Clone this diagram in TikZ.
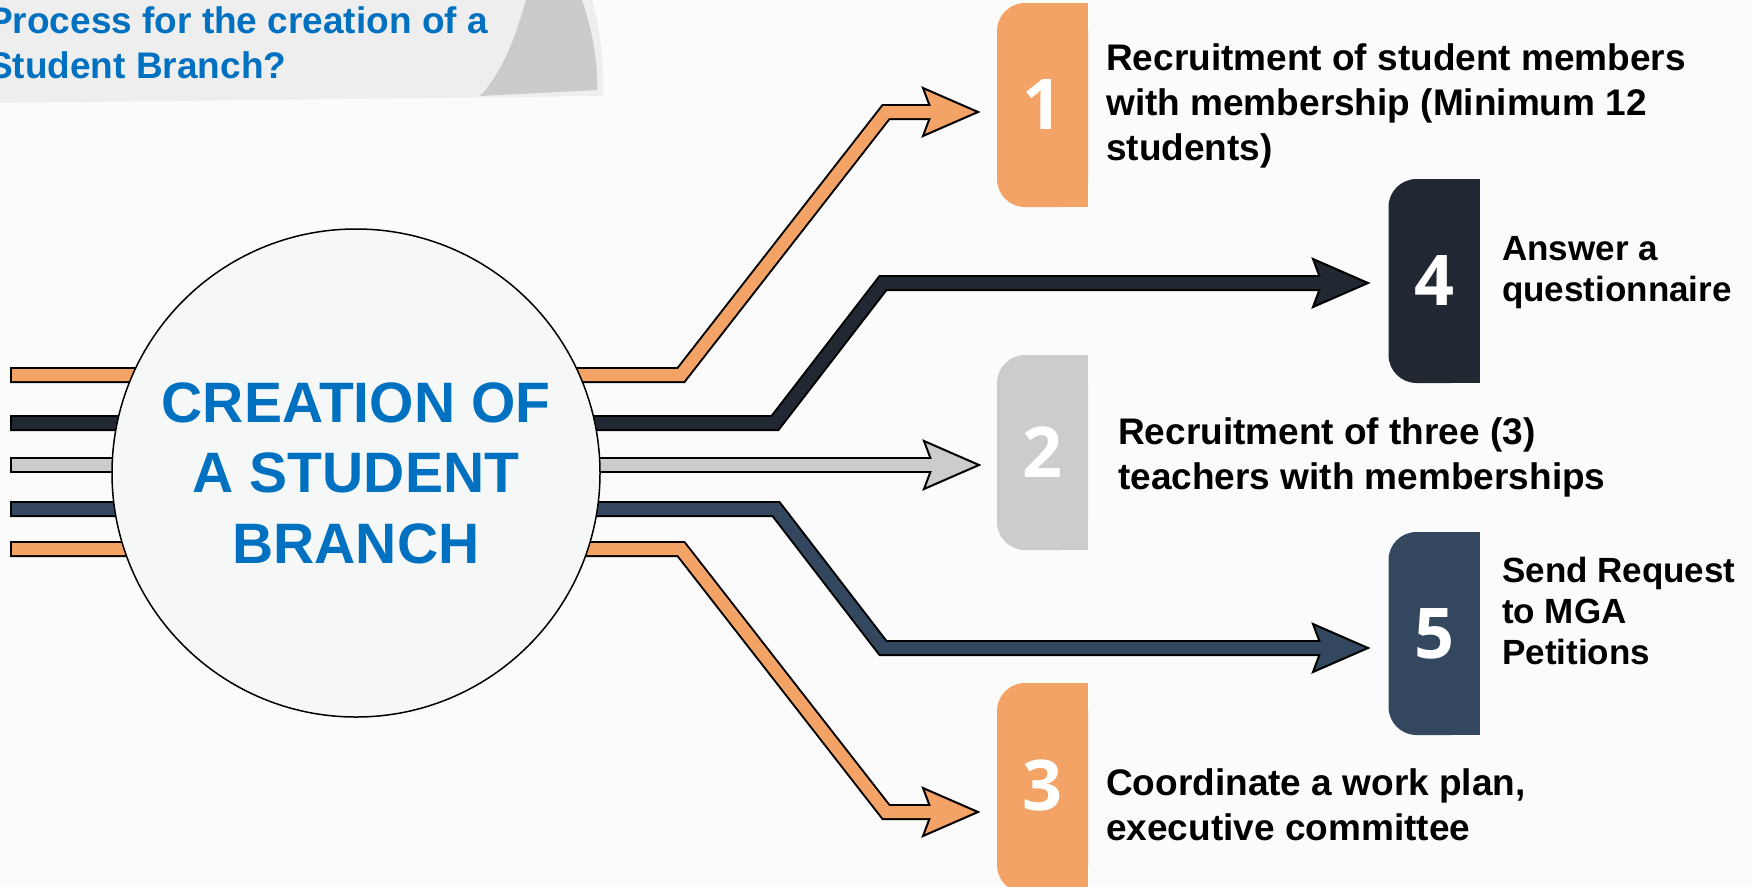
\documentclass[tikz,border=0pt]{standalone}
\usepackage{fontspec}
\setmainfont{Liberation Sans}
\newfontfamily\digitfont{Open Sans}
\usetikzlibrary{shapes.geometric}
\definecolor{borange}{HTML}{F2A365}
\definecolor{bdark}{HTML}{212832}
\definecolor{bgray}{HTML}{CCCCCC}
\definecolor{bnavy}{HTML}{33475E}
\definecolor{bblue}{HTML}{0070C0}
\definecolor{bannerbg}{HTML}{EEEEEE}
\definecolor{curlgray}{HTML}{CBCBCB}
\definecolor{circfill}{HTML}{F6F8F8}
\definecolor{pagebg}{HTML}{FBFBFB}
\newcommand\arrowhead[3]{%
  \filldraw[fill=#1,draw=black,line width=2pt,line join=miter]
    (#2,#3) -- ({#2-55},{#3-24}) -- ({#2-46},#3) -- ({#2-55},{#3+24}) -- cycle;}
\tikzset{
  shaftout/.style={draw=black,line width=16pt,line join=miter,line cap=butt},
  shaftin/.style={draw=#1,line width=12pt,line join=miter,line cap=butt},
  numbox/.style={rectangle,fill=#1,minimum width=91pt,rounded corners=28pt,
    inner sep=0pt},
  digit/.style={text=white,inner sep=0pt,font=\digitfont\bfseries\fontsize{70}{70}\selectfont},
  steptext/.style={anchor=west,align=left,inner sep=0pt,text=black,
    font=\bfseries\fontsize{37}{45}\selectfont},
  steptextsmall/.style={anchor=west,align=left,inner sep=0pt,text=black,
    font=\bfseries\fontsize{35}{41}\selectfont}
}
\begin{document}
\begin{tikzpicture}[x=1pt,y=-1pt]
\useasboundingbox (0,0) rectangle (1752,886);
\clip (0,0) rectangle (1752,886);
\fill[pagebg] (0,0) rectangle (1752,886);
% banner
\fill[bannerbg] (0,0) -- (592,0) .. controls (600,30) and (604,60) .. (603,96) -- (0,103) -- cycle;
\fill[curlgray] (480,96) .. controls (503,72) and (516,35) .. (526,0) -- (582,0)
   .. controls (592,30) and (598,60) .. (597,90) -- cycle;
\node[anchor=west,align=left,inner sep=0pt,text=bblue,
  font=\bfseries\fontsize{37}{45}\selectfont] (title) at (-12,43)
  {Process for the creation of a\\Student Branch?};
% connector coordinates
\coordinate (a1s) at (10,375); \coordinate (a1c) at (12,375);
\coordinate (a1p) at (681,375); \coordinate (a1q) at (886,112);
\coordinate (a1n) at (932,112); \coordinate (a1e) at (938,112);
\coordinate (a4s) at (10,423); \coordinate (a4c) at (12,423);
\coordinate (a4p) at (775,423); \coordinate (a4q) at (883,283);
\coordinate (a4n) at (1322,283); \coordinate (a4e) at (1328,283);
\coordinate (a2s) at (10,465); \coordinate (a2c) at (12,465);
\coordinate (a2n) at (933,465); \coordinate (a2e) at (939,465);
\coordinate (a5s) at (10,509); \coordinate (a5c) at (12,509);
\coordinate (a5p) at (776,509); \coordinate (a5q) at (883,648);
\coordinate (a5n) at (1322,648); \coordinate (a5e) at (1328,648);
\coordinate (a3s) at (10,549); \coordinate (a3c) at (12,549);
\coordinate (a3p) at (681,549); \coordinate (a3q) at (886,812);
\coordinate (a3n) at (932,812); \coordinate (a3e) at (938,812);
% arrow 1
\draw[shaftout] (a1s) -- (a1p) -- (a1q) -- (a1n);
\arrowhead{borange}{978}{112}
\draw[shaftin=borange] (a1c) -- (a1p) -- (a1q) -- (a1e);
% arrow 4
\draw[shaftout] (a4s) -- (a4p) -- (a4q) -- (a4n);
\arrowhead{bdark}{1368}{283}
\draw[shaftin=bdark] (a4c) -- (a4p) -- (a4q) -- (a4e);
% arrow 2
\draw[shaftout] (a2s) -- (a2n);
\arrowhead{bgray}{979}{465}
\draw[shaftin=bgray] (a2c) -- (a2e);
% arrow 5
\draw[shaftout] (a5s) -- (a5p) -- (a5q) -- (a5n);
\arrowhead{bnavy}{1368}{648}
\draw[shaftin=bnavy] (a5c) -- (a5p) -- (a5q) -- (a5e);
% arrow 3
\draw[shaftout] (a3s) -- (a3p) -- (a3q) -- (a3n);
\arrowhead{borange}{978}{812}
\draw[shaftin=borange] (a3c) -- (a3p) -- (a3q) -- (a3e);
% hub
\node[circle,draw=black,line width=1.5pt,fill=circfill,minimum size=488pt,
  inner sep=0pt] (hub) at (356,473) {};
\node[align=center,text=bblue,inner sep=0pt,
  font=\bfseries\fontsize{57}{70.5}\selectfont] (hubtext) at (356,473)
  {CREATION OF\\A STUDENT\\BRANCH};
% number boxes
\node[numbox=borange,minimum height=204pt] (b1) at (1042.5,105) {};
\fill[borange] (b1.north) rectangle (b1.south east);
\node[digit] (n1) at (b1.center) {1};
\node[numbox=bdark,minimum height=204pt] (b4) at (1434,281) {};
\fill[bdark] (b4.north) rectangle (b4.south east);
\node[digit] (n4) at (b4.center) {4};
\node[numbox=bgray,minimum height=195pt] (b2) at (1042.5,452.5) {};
\fill[bgray] (b2.north) rectangle (b2.south east);
\node[digit] (n2) at (b2.center) {2};
\node[numbox=bnavy,minimum height=203pt] (b5) at (1434,633.5) {};
\fill[bnavy] (b5.north) rectangle (b5.south east);
\node[digit] (n5) at (b5.center) {5};
\node[numbox=borange,minimum height=210pt] (b3) at (1042.5,788) {};
\fill[borange] (b3.north) rectangle (b3.south east);
\node[digit] (n3) at ([yshift=3pt]b3.center) {3};
% step texts
\node[steptext] (t1) at (1106,106) {Recruitment of student members\\with membership (Minimum 12\\students)};
\node[steptextsmall] (t4) at (1502,273) {Answer a\\questionnaire};
\node[steptext] (t2) at (1118,457) {Recruitment of three (3)\\teachers with memberships};
\node[steptextsmall] (t5) at (1502,611) {Send Request\\to MGA\\Petitions};
\node[steptext] (t3) at (1106,805) {Coordinate a work plan,\\executive committee};
\end{tikzpicture}
\end{document}
